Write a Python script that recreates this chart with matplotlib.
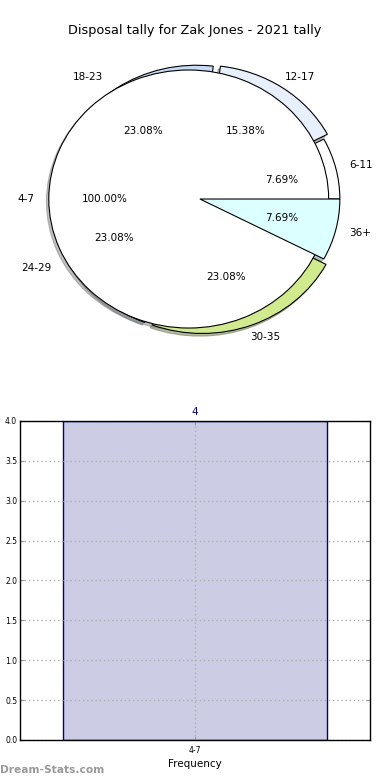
from matplotlib import pyplot as plt

# pie data (disposal brackets, share of games)
pie_labels = ['6-11', '12-17', '18-23', '24-29', '30-35', '36+']
pie_values = [7.69, 15.38, 23.08, 23.08, 23.08, 7.69]
pie_colors = ['#ffffff', '#e8effd', '#c9daf5', '#b9c6d6', '#d2ea8e', '#dcffff']
pie_explode = [0.0, 0.045, 0.045, 0.045, 0.045, 0.0]

# the single bucket of the current season
top_label = '4-7'
top_value = [100.0]

# bar data
bar_labels = ['4-7']
bar_values = [4]

title = 'Disposal tally for Zak Jones - 2021 tally'

fig = plt.figure(figsize=(3.9, 7.8), dpi=100)
fig.text(0.5, 0.961, title, ha='center', va='center', fontsize=9.3)

# ---- pie ----
ax1 = fig.add_axes([0.0641, 0.5381, 0.897, 0.4135])
shadow = {'ox': -0.012, 'oy': -0.015, 'shade': 0.5}
wedges, texts, autotexts = ax1.pie(pie_values, labels=pie_labels, colors=pie_colors,
                                   explode=pie_explode, autopct='%.2f%%',
                                   shadow=shadow, startangle=0, pctdistance=0.6,
                                   labeldistance=1.1,
                                   wedgeprops={'linewidth': 0.8, 'edgecolor': 'black'},
                                   textprops={'fontsize': 7.5})
w2, t2, a2 = ax1.pie(top_value, labels=[top_label], colors=['white'],
                     explode=[0.08], autopct='%.2f%%', shadow=shadow,
                     startangle=0, pctdistance=0.6, labeldistance=1.1,
                     wedgeprops={'linewidth': 0.8, 'edgecolor': 'black'},
                     textprops={'fontsize': 7.5})
# the last slice stays on top of the white disc
wedges[-1].set_zorder(5)
for i, (t, a) in enumerate(zip(texts, autotexts)):
    if pie_explode[i] > 0:
        # texts of the exploded slices sit a bit further left in the original
        t.set_x(t.get_position()[0] - 0.045)
        a.set_x(a.get_position()[0] - 0.04)
for t in list(texts) + list(autotexts) + list(t2) + list(a2):
    t.set_zorder(6)
ax1.set_aspect('auto')
ax1.set_xlim(-1.25, 1.25)
ax1.set_ylim(-1.25, 1.25)

# ---- bar ----
ax2 = fig.add_axes([0.0513, 0.0513, 0.897, 0.409])
x = list(range(len(bar_values)))
bars = ax2.bar(x, bar_values, width=0.8, color='#ccccE4', edgecolor='#000080',
               linewidth=1.0, zorder=2)
for xi, v in zip(x, bar_values):
    ax2.text(xi, v + 0.05, str(v), ha='center', va='bottom', color='#000080', fontsize=7.5)
ax2.set_xlim(-0.53, 0.53)
ax2.set_ylim(0, 4.0)
ax2.set_yticks([i * 0.5 for i in range(9)])
ax2.set_xticks(x)
ax2.set_xticklabels(bar_labels)
ax2.tick_params(axis='both', direction='in', labelsize=5.5, length=3,
                right=True, top=True, color='#999999', pad=2)
ax2.tick_params(axis='x', pad=4)
ax2.grid(True, linestyle=(0, (1, 2)), color='#b0b0b0', linewidth=1.0, zorder=3)
ax2.set_axisbelow(False)
ax2.set_xlabel('Frequency', fontsize=7.5, labelpad=3)
for s in ax2.spines.values():
    s.set_linewidth(1.0)
    s.set_zorder(4)

fig.text(0.0, 0.006, 'Dream-Stats.com', color='#999999', fontsize=7.7,
         fontweight='bold', ha='left', va='bottom')

fig.savefig('out.png', dpi=100)
